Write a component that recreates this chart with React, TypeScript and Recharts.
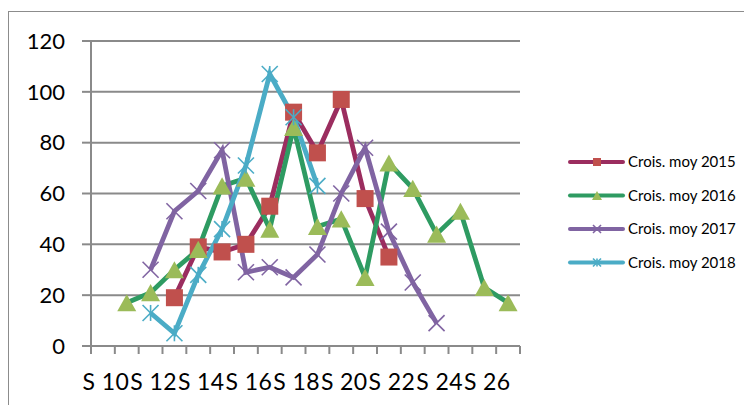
import { LineChart, Line, XAxis, YAxis, CartesianGrid } from 'recharts'

const weeks = ['S 10', 'S 11', 'S 12', 'S 13', 'S 14', 'S 15', 'S 16', 'S 17', 'S 18', 'S 19', 'S 20', 'S 21', 'S 22', 'S 23', 'S 24', 'S 25', 'S 26', 'S 27']
const crois2015 = [null, null, null, 19, 39, 37, 40, 55, 92, 76, 97, 58, 35, null, null, null, null, null]
const crois2016 = [null, 17, 21, 30, 38, 63, 66, 46, 86, 47, 50, 27, 72, 62, 44, 53, 23, 17]
const crois2017 = [null, null, 30, 53, 61, 77, 29, 31, 27, 36, 60, 78, 45, 25, 9, null, null, null]
const crois2018 = [null, null, 13, 5, 28, 46, 71, 107, 90, 63, null, null, null, null, null, null, null, null]
const yTicks = [0, 20, 40, 60, 80, 100, 120]

const data = weeks.map((w, i) => ({
  week: w,
  c2015: crois2015[i],
  c2016: crois2016[i],
  c2017: crois2017[i],
  c2018: crois2018[i],
}))

const W = 744
const H = 405
const LEFT = 91
const RIGHT = 224
const BAND = (W - LEFT - RIGHT) / weeks.length
const FONT = 'Lato, "Open Sans", sans-serif'
const GRID = '#8a8a8a'

function marker(kind: string, cx: number, cy: number, s: number, fill: string, key?: any) {
  if (kind === 'square') {
    return <rect key={key} x={cx - s / 2} y={cy - s / 2} width={s} height={s} fill={fill} />
  }
  if (kind === 'triangle') {
    const h = s * 0.9
    return <polygon key={key} points={`${cx},${cy - h / 2} ${cx + s / 2},${cy + h / 2} ${cx - s / 2},${cy + h / 2}`} fill={fill} />
  }
  const r = s / 2
  return (
    <g key={key} stroke={fill} strokeWidth={1.6}>
      <line x1={cx - r} y1={cy - r} x2={cx + r} y2={cy + r} />
      <line x1={cx - r} y1={cy + r} x2={cx + r} y2={cy - r} />
      {kind === 'star' && <line x1={cx} y1={cy - r} x2={cx} y2={cy + r} />}
    </g>
  )
}

const series = [
  { key: 'c2015', name: 'Crois. moy 2015', line: '#9b2d5f', fill: '#c0504d', kind: 'square', size: 17 },
  { key: 'c2016', name: 'Crois. moy 2016', line: '#2e9b62', fill: '#9bbb59', kind: 'triangle', size: 19 },
  { key: 'c2017', name: 'Crois. moy 2017', line: '#8064a2', fill: '#8064a2', kind: 'x', size: 16 },
  { key: 'c2018', name: 'Crois. moy 2018', line: '#4bacc6', fill: '#4bacc6', kind: 'star', size: 16 },
]

const WeekTick = (props: any) => {
  const { x, y, payload, index } = props
  const left = x - BAND / 2
  return (
    <g>
      <line x1={left} y1={y} x2={left} y2={y + 8} stroke={GRID} strokeWidth={2} />
      {index === weeks.length - 1 && (
        <line x1={x + BAND / 2} y1={y} x2={x + BAND / 2} y2={y + 8} stroke={GRID} strokeWidth={2} />
      )}
      {index % 2 === 0 && (
        <text x={x + 3} y={y + 44} textAnchor="middle" fontSize={23} fontFamily={FONT} fill="#000" letterSpacing={0.4}>
          {payload.value}
        </text>
      )}
    </g>
  )
}

export default function App() {
  return (
    <div style={{ position: 'fixed', left: 0, top: 0, width: W, height: H, overflow: 'hidden', background: '#fff' }}>
      <div style={{ position: 'absolute', left: 8, top: 11, width: 900, height: 600, border: '1.5px solid #8c8c8c' }} />
      <div style={{ position: 'absolute', left: 0, top: 0 }}>
        <LineChart width={W} height={H} data={data} margin={{ top: 41, right: RIGHT, bottom: 0, left: 0 }}>
          <CartesianGrid vertical={false} stroke={GRID} strokeWidth={2} />
          <XAxis
            dataKey="week"
            scale="band"
            interval={0}
            height={59}
            tickLine={false}
            tickSize={0}
            tickMargin={0}
            axisLine={{ stroke: GRID, strokeWidth: 2 }}
            tick={<WeekTick />}
          />
          <YAxis
            domain={[0, 120]}
            ticks={yTicks}
            width={LEFT}
            tickSize={9}
            tickMargin={17}
            axisLine={{ stroke: GRID, strokeWidth: 2 }}
            tickLine={{ stroke: GRID, strokeWidth: 2 }}
            tick={{ fontSize: 22, fontFamily: FONT, fill: '#000' }}
          />
          {series.map((s) => (
            <Line
              key={s.key}
              dataKey={s.key}
              name={s.name}
              stroke={s.line}
              strokeWidth={4.8}
              isAnimationActive={false}
              connectNulls={false}
              dot={(p: any) =>
                p.value == null || p.cy == null ? <g key={p.index} /> : marker(s.kind, p.cx, p.cy, s.size, s.fill, p.index)
              }
              activeDot={false}
            />
          ))}
        </LineChart>
      </div>
      <svg style={{ position: 'absolute', left: 560, top: 145 }} width={184} height={130}>
        {series.map((s, i) => {
          const cy = 17 + i * 33.5
          return (
            <g key={s.key}>
              <line x1={10} y1={cy} x2={63} y2={cy} stroke={s.line} strokeWidth={4} strokeLinecap="round" />
              {marker(s.kind, 37, cy, s.kind === 'triangle' ? 10 : 8, s.fill)}
              <text x={68} y={cy + 5} fontSize={15} fontFamily={FONT} fill="#000">
                {s.name}
              </text>
            </g>
          )
        })}
      </svg>
    </div>
  )
}
